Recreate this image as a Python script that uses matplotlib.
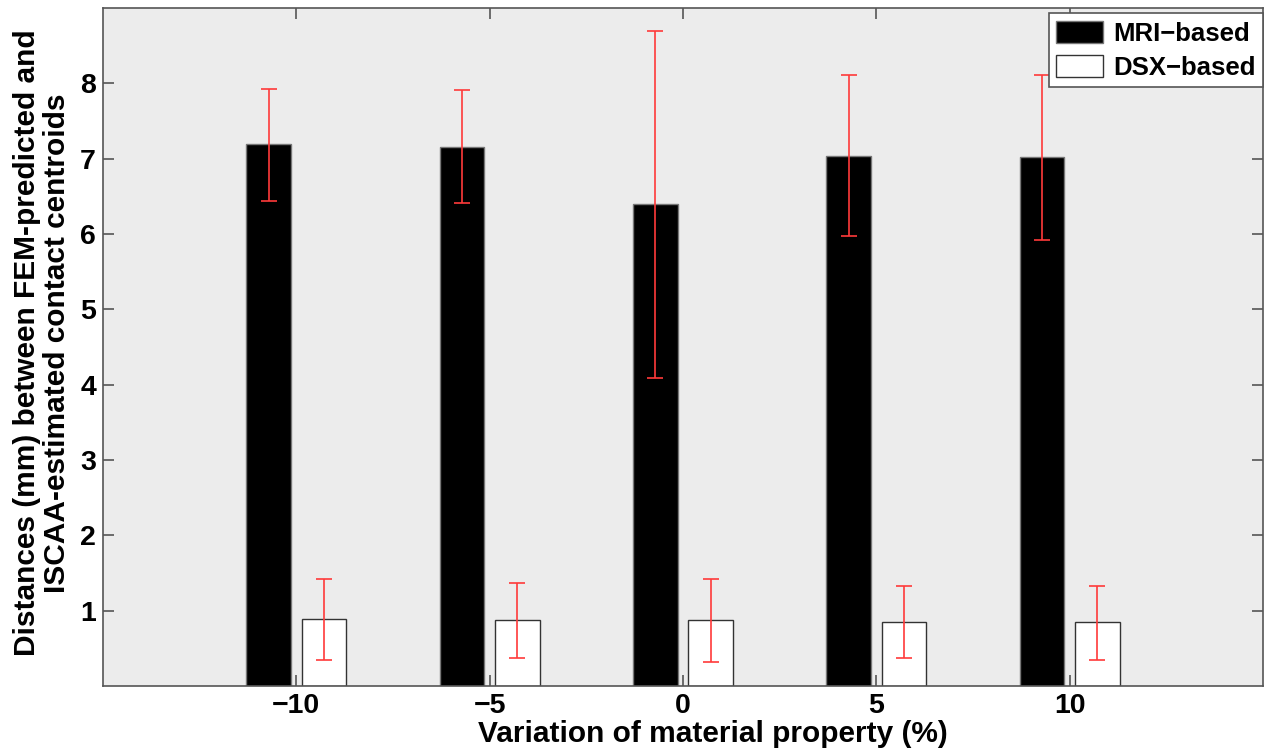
import numpy as np
import matplotlib.pyplot as plt

plt.rcParams['font.family'] = ['Liberation Sans', 'DejaVu Sans']

variation = [-10, -5, 0, 5, 10]
mri_mean = [7.19, 7.16, 6.40, 7.04, 7.02]
mri_low = [6.44, 6.41, 4.09, 5.97, 5.92]
mri_high = [7.93, 7.91, 8.69, 8.11, 8.11]
dsx_mean = [0.885, 0.876, 0.876, 0.85, 0.845]
dsx_low = [0.34, 0.37, 0.32, 0.37, 0.35]
dsx_high = [1.42, 1.37, 1.42, 1.33, 1.33]

x = np.array(variation, dtype=float)
mri_mean = np.array(mri_mean)
dsx_mean = np.array(dsx_mean)
mri_err = [mri_mean - np.array(mri_low), np.array(mri_high) - mri_mean]
dsx_err = [dsx_mean - np.array(dsx_low), np.array(dsx_high) - dsx_mean]

fig = plt.figure(figsize=(12.72, 7.51), dpi=100)
ax = fig.add_axes([103 / 1272, 65 / 751, 1160 / 1272, 678 / 751])
ax.set_facecolor('#ececec')

w = 1.16
off = 0.714
ax.bar(x - off, mri_mean, w, color='black', edgecolor='#777777', linewidth=1, label='MRI\u2212based', zorder=2)
ax.bar(x + off, dsx_mean, w, color='white', edgecolor='#333333', linewidth=1, label='DSX\u2212based', zorder=2)
ebkw = dict(fmt='none', ecolor='#ff3a3a', elinewidth=1.2, capsize=6, capthick=1.2, zorder=3)
ax.errorbar(x - off, mri_mean, yerr=mri_err, **ebkw)
ax.errorbar(x + off, dsx_mean, yerr=dsx_err, **ebkw)

ax.set_xlim(-15, 15)
ax.set_ylim(0, 9)
ax.set_xticks(variation)
ax.set_xticklabels([str(v).replace('-', '\u2212') for v in variation])
ax.set_yticks(range(1, 9))
for s in ax.spines.values():
    s.set_color('#555555')
    s.set_linewidth(1.2)
ax.tick_params(direction='in', length=8, width=1.2, color='#555555', top=True, right=True,
               labelsize=20.5, pad=5)
for lab in ax.get_xticklabels() + ax.get_yticklabels():
    lab.set_fontweight('bold')

ax.set_xlabel('Variation of material property (%)', fontsize=21.5, fontweight='bold')
ax.xaxis.set_label_coords(0.526, -0.05, transform=ax.transAxes)
ax.set_ylabel('Distances (mm) between FEM-predicted and\nISCAA-estimated contact centroids',
              fontsize=21.5, fontweight='bold', linespacing=1.05)
ax.yaxis.set_label_coords(-0.028, 0.506, transform=ax.transAxes)

leg = ax.legend(loc='upper right', bbox_to_anchor=(1.0, 1 - 5 / 678), prop={'weight': 'bold', 'size': 18.5},
                fancybox=False, framealpha=1, edgecolor='#555555', borderaxespad=0,
                handlelength=1.8, handleheight=0.95, borderpad=0.3, labelspacing=0.35,
                handletextpad=0.4)
leg.get_frame().set_linewidth(1.2)

fig.savefig('out.png', dpi=100)
